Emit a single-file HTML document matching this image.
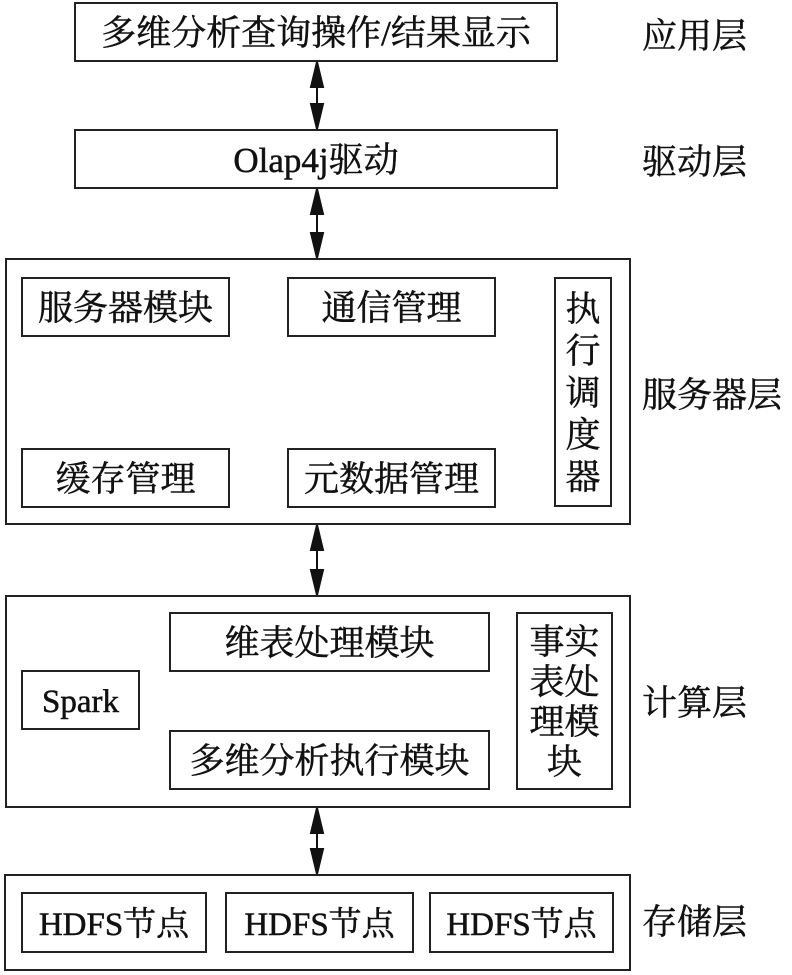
<!DOCTYPE html>
<html><head><meta charset="utf-8"><style>
body{margin:0;width:792px;height:975px;background:#fff;position:relative;overflow:hidden;font-family:"Liberation Serif","Noto Serif CJK SC",serif;color:#111;-webkit-text-stroke:0.5px #111}
.b{position:absolute;border:2px solid #222;box-sizing:border-box;display:flex;align-items:center;justify-content:center;font-size:35px;line-height:40px;text-align:center;padding-top:4px}
.l{position:absolute;font-size:35px;line-height:40px;left:642px}
svg{position:absolute;left:0;top:0}
</style></head><body>
<div class="b" style="left:74px;top:2px;width:484px;height:60px">多维分析查询操作/结果显示</div>
<div class="l" style="top:17px">应用层</div>
<div class="b" style="left:74px;top:129px;width:484px;height:60px">Olap4j驱动</div>
<div class="l" style="top:143px">驱动层</div>

<div class="b" style="left:5px;top:258px;width:626px;height:267px"></div>
<div class="b" style="left:21px;top:277px;width:209px;height:60px">服务器模块</div>
<div class="b" style="left:287px;top:277px;width:209px;height:60px">通信管理</div>
<div class="b" style="left:554px;top:277px;width:58px;height:230px;line-height:42px;padding:4px 8px 0">执行调度器</div>
<div class="b" style="left:21px;top:448px;width:209px;height:60px">缓存管理</div>
<div class="b" style="left:287px;top:448px;width:209px;height:60px">元数据管理</div>
<div class="l" style="top:376px">服务器层</div>

<div class="b" style="left:5px;top:595px;width:626px;height:213px"></div>
<div class="b" style="left:169px;top:612px;width:321px;height:60px">维表处理模块</div>
<div class="b" style="left:21px;top:670px;width:119px;height:60px;font-size:33px">Spark</div>
<div class="b" style="left:169px;top:730px;width:321px;height:60px">多维分析执行模块</div>
<div class="b" style="left:516px;top:612px;width:97px;height:178px;padding:4px 10px 0">事实表处理模块</div>
<div class="l" style="top:684px">计算层</div>

<div class="b" style="left:4px;top:874px;width:627px;height:97px"></div>
<div class="b" style="left:21px;top:892px;width:186px;height:61px;font-size:33px">HDFS节点</div>
<div class="b" style="left:225px;top:892px;width:189px;height:61px;font-size:33px">HDFS节点</div>
<div class="b" style="left:429px;top:892px;width:185px;height:61px;font-size:33px">HDFS节点</div>
<div class="l" style="top:903px">存储层</div>

<svg width="792" height="975">
<g fill="#111" stroke="#111" stroke-width="2">
<line x1="317" y1="70" x2="317" y2="122"/><polygon points="317,62 311,87 323,87"/><polygon points="317,129 311,104 323,104"/>
<line x1="317" y1="197" x2="317" y2="250"/><polygon points="317,189 311,214 323,214"/><polygon points="317,258 311,233 323,233"/>
<line x1="317" y1="533" x2="317" y2="587"/><polygon points="317,525 311,550 323,550"/><polygon points="317,595 311,570 323,570"/>
<line x1="317" y1="816" x2="317" y2="866"/><polygon points="317,808 311,833 323,833"/><polygon points="317,874 311,849 323,849"/>
</g></svg>
</body></html>
